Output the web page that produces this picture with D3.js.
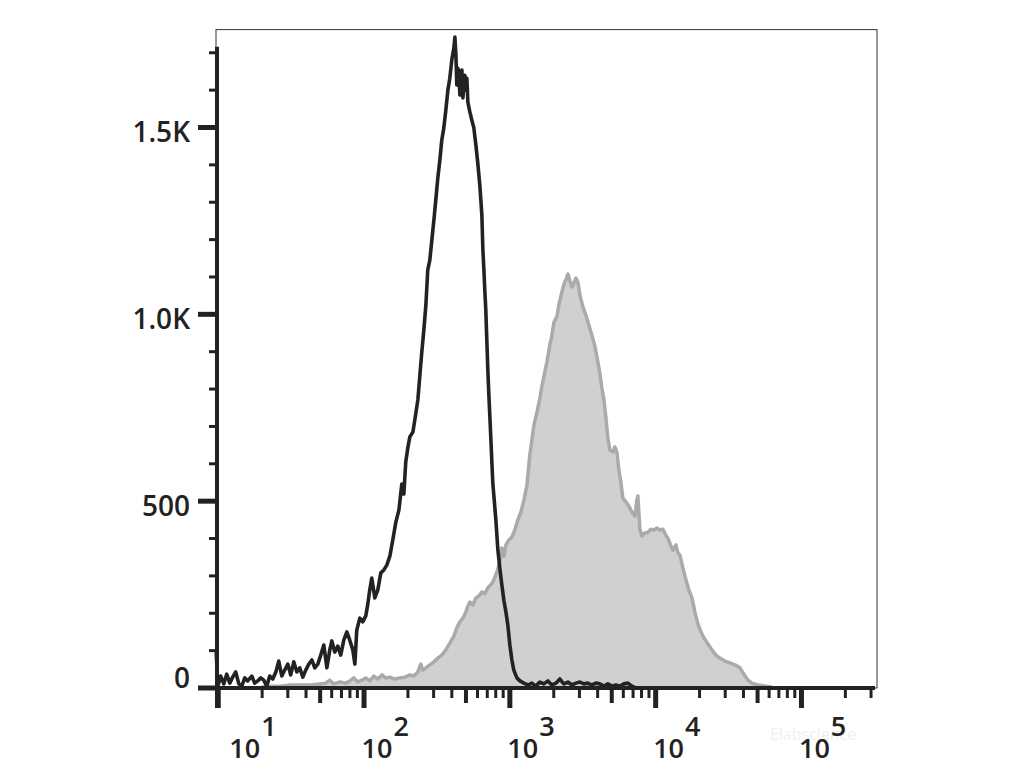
<!DOCTYPE html>
<html>
<head>
<meta charset="utf-8">
<script src="https://cdn.jsdelivr.net/npm/d3@7"></script>
<style>
  html, body { margin: 0; padding: 0; background: #ffffff; }
  svg { display: block; }
</style>
</head>
<body>
<svg id="chart" width="1020" height="765"></svg>
<script>
// ---------------- data ----------------
// log10 of fluorescence channel, and event counts
const blackLog = [0.986,0.997,1.017,1.038,1.058,1.079,1.099,1.120,1.141,1.161,1.182,1.202,1.230,1.250,1.271,1.292,1.312,1.333,1.353,1.374,1.395,1.415,1.436,1.456,1.477,1.497,1.518,1.539,1.559,1.580,1.600,1.621,1.642,1.662,1.683,1.703,1.724,1.745,1.765,1.779,1.799,1.820,1.840,1.861,1.882,1.902,1.923,1.937,1.950,1.971,1.991,2.012,2.026,2.039,2.053,2.074,2.094,2.115,2.136,2.156,2.177,2.197,2.218,2.239,2.259,2.273,2.286,2.300,2.314,2.335,2.348,2.369,2.383,2.396,2.410,2.424,2.437,2.451,2.465,2.479,2.492,2.506,2.520,2.533,2.547,2.561,2.575,2.588,2.602,2.616,2.623,2.630,2.636,2.643,2.650,2.657,2.664,2.671,2.678,2.684,2.691,2.698,2.705,2.712,2.726,2.739,2.753,2.767,2.780,2.794,2.808,2.815,2.822,2.828,2.835,2.842,2.849,2.856,2.863,2.870,2.876,2.883,2.890,2.904,2.918,2.931,2.945,2.959,2.973,2.986,3.000,3.014,3.027,3.048,3.069,3.096,3.124,3.151,3.178,3.206,3.233,3.261,3.288,3.316,3.343,3.370,3.398,3.425,3.453,3.480,3.508,3.535,3.562,3.590,3.617,3.645,3.672,3.700,3.727,3.755,3.782,3.810,3.837,3.864];
const blackCount = [96,5,32,11,37,13,29,43,11,5,27,19,32,13,19,27,21,5,32,24,43,72,32,48,64,35,70,43,54,29,48,64,75,54,64,88,115,54,102,126,96,112,88,128,150,128,102,64,155,187,177,193,225,262,294,241,262,308,316,329,353,396,444,476,546,519,605,642,672,685,717,771,838,899,958,1025,1119,1145,1199,1252,1306,1365,1413,1466,1499,1547,1600,1632,1681,1713,1742,1694,1614,1659,1648,1587,1627,1654,1579,1616,1640,1600,1632,1568,1541,1520,1499,1453,1405,1346,1266,1172,1119,1065,1012,931,851,784,725,664,610,549,516,450,369,321,276,235,203,169,115,75,48,27,19,13,8,13,5,16,11,19,8,13,24,11,16,8,13,16,11,13,8,13,11,5,11,5,8,5,11,13,5,0];

const grayLog = [1.298,1.353,1.422,1.491,1.559,1.628,1.696,1.737,1.765,1.792,1.834,1.875,1.902,1.930,1.957,1.985,2.012,2.039,2.067,2.094,2.122,2.149,2.177,2.211,2.245,2.280,2.314,2.341,2.369,2.389,2.403,2.424,2.451,2.479,2.506,2.533,2.561,2.588,2.616,2.636,2.657,2.678,2.698,2.712,2.726,2.746,2.767,2.787,2.808,2.828,2.849,2.870,2.890,2.911,2.931,2.945,2.959,2.973,2.993,3.014,3.034,3.055,3.076,3.096,3.117,3.137,3.151,3.165,3.185,3.206,3.220,3.240,3.254,3.274,3.288,3.302,3.323,3.336,3.357,3.371,3.384,3.398,3.412,3.426,3.439,3.453,3.467,3.480,3.501,3.521,3.542,3.562,3.583,3.604,3.617,3.631,3.645,3.659,3.672,3.686,3.707,3.720,3.734,3.748,3.762,3.775,3.796,3.816,3.837,3.858,3.871,3.878,3.892,3.906,3.926,3.947,3.967,3.988,4.009,4.029,4.050,4.070,4.084,4.105,4.118,4.139,4.153,4.166,4.187,4.208,4.228,4.249,4.269,4.290,4.311,4.331,4.358,4.386,4.413,4.441,4.475,4.509,4.544,4.578,4.605,4.633,4.660,4.701,4.756,4.797];
const grayCount = [3,5,5,8,8,8,11,13,21,11,16,13,19,27,16,21,27,19,32,24,35,27,29,24,27,29,35,32,43,64,48,54,62,70,80,88,102,120,139,161,177,187,203,219,230,222,241,246,257,252,268,276,289,310,337,375,353,383,396,404,423,450,471,503,543,624,664,704,736,776,808,846,872,918,942,979,995,1025,1060,1081,1092,1108,1089,1073,1084,1097,1086,1052,1020,998,971,945,915,872,843,803,771,723,669,637,632,645,632,583,549,508,498,487,471,460,503,514,423,407,415,417,425,423,428,423,425,409,401,380,369,383,361,356,321,289,262,241,203,171,150,134,118,102,88,80,72,67,62,54,37,21,13,8,5,3];

const xMajorExps = [1, 2, 3, 4, 5];
const xMinorMult = [2, 3, 4, 5, 6, 7, 8, 9];
const yMajorValues = [0, 500, 1000, 1500];
const yMajorLabels = ["0", "500", "1.0K", "1.5K"];
const yMinorValues = [100, 200, 300, 400, 600, 700, 800, 900, 1100, 1200, 1300, 1400, 1600, 1700];
const watermark = "Elabscience";

// ---------------- scales ----------------
const svg = d3.select("#chart");
const x = d3.scaleLog().domain([Math.pow(10, 0.9846), Math.pow(10, 5.518)]).range([216, 877]);
const y = d3.scaleLinear().domain([0, 1762]).range([688, 29.6]);
const fx = l => x(Math.pow(10, l));

const ink = "#222222";
const font = "'Open Sans', 'Noto Sans', sans-serif";

// frame
svg.append("rect")
  .attr("x", x.range()[0]).attr("y", y(1762))
  .attr("width", x.range()[1] - x.range()[0]).attr("height", y(0) - y(1762))
  .attr("fill", "none").attr("stroke", "#333").attr("stroke-width", 1);

// watermark (very faint)
svg.append("text")
  .attr("x", fx(5.08)).attr("y", 740)
  .attr("text-anchor", "middle")
  .attr("font-family", font).attr("font-size", 16)
  .attr("fill", "#f0f0f0")
  .text(watermark);

// gray filled histogram
const grayData = grayLog.map((l, i) => ({ l, c: grayCount[i] }));
svg.append("path")
  .datum(grayData)
  .attr("d", d3.area().x(d => fx(d.l)).y0(y(0)).y1(d => y(d.c)))
  .attr("fill", "#d0d0d0");
svg.append("path")
  .datum(grayData)
  .attr("d", d3.line().x(d => fx(d.l)).y(d => y(d.c)))
  .attr("fill", "none").attr("stroke", "#aaaaaa").attr("stroke-width", 3.5)
  .attr("stroke-linejoin", "round");

// black histogram line
const blackData = blackLog.map((l, i) => ({ l, c: blackCount[i] }));
svg.append("path")
  .datum(blackData)
  .attr("d", d3.line().x(d => fx(d.l)).y(d => y(d.c)))
  .attr("fill", "none").attr("stroke", ink).attr("stroke-width", 3.6)
  .attr("stroke-linejoin", "round");

// ---------------- axes ----------------
const g = svg.append("g");
const axX = 217;
const axY = y(0);

// y axis line
g.append("line")
  .attr("x1", axX).attr("x2", axX)
  .attr("y1", y(1700) - 6).attr("y2", axY + 20)
  .attr("stroke", ink).attr("stroke-width", 4);
// x axis line
g.append("line")
  .attr("x1", 198).attr("x2", 875)
  .attr("y1", axY).attr("y2", axY)
  .attr("stroke", ink).attr("stroke-width", 4);

// y minor ticks
g.selectAll(".ymin").data(yMinorValues).enter().append("line")
  .attr("x1", axX - 8).attr("x2", axX)
  .attr("y1", d => y(d)).attr("y2", d => y(d))
  .attr("stroke", ink).attr("stroke-width", 3);
// y major ticks
g.selectAll(".ymaj").data(yMajorValues).enter().append("line")
  .attr("x1", 198).attr("x2", axX)
  .attr("y1", d => y(d)).attr("y2", d => y(d))
  .attr("stroke", ink).attr("stroke-width", 5);
// y labels
g.selectAll(".ylab").data(yMajorValues).enter().append("text")
  .attr("x", 190)
  .attr("y", d => y(d) + (d === 0 ? 0 : 14.5))
  .attr("text-anchor", "end")
  .attr("font-family", font).attr("font-size", 28).attr("font-weight", 600)
  .attr("fill", ink)
  .text((d, i) => yMajorLabels[i]);

// x minor ticks
const minorVals = [];
xMajorExps.forEach(e => xMinorMult.forEach(m => {
  const v = m * Math.pow(10, e);
  if (v <= x.domain()[1]) minorVals.push({ v, m });
}));
g.selectAll(".xmin").data(minorVals).enter().append("line")
  .attr("x1", d => x(d.v)).attr("x2", d => x(d.v))
  .attr("y1", axY).attr("y2", d => axY + (d.m === 5 ? 15 : 10))
  .attr("stroke", ink).attr("stroke-width", d => d.m === 5 ? 4 : 3);
// x major ticks
g.selectAll(".xmaj").data(xMajorExps).enter().append("line")
  .attr("x1", d => x(Math.pow(10, d))).attr("x2", d => x(Math.pow(10, d)))
  .attr("y1", axY).attr("y2", axY + 20)
  .attr("stroke", ink).attr("stroke-width", 5);
// x labels: 10 with superscript exponent
const xl = g.selectAll(".xlab").data(xMajorExps).enter().append("text")
  .attr("x", d => x(Math.pow(10, d)) + (d === 1 ? 11 : -2.5))
  .attr("y", 758)
  .attr("font-family", font).attr("font-size", 27).attr("font-weight", 600)
  .attr("fill", ink);
xl.append("tspan").text("10");
xl.append("tspan").attr("dy", -22).attr("dx", 1).text(d => d);
</script>
</body>
</html>
